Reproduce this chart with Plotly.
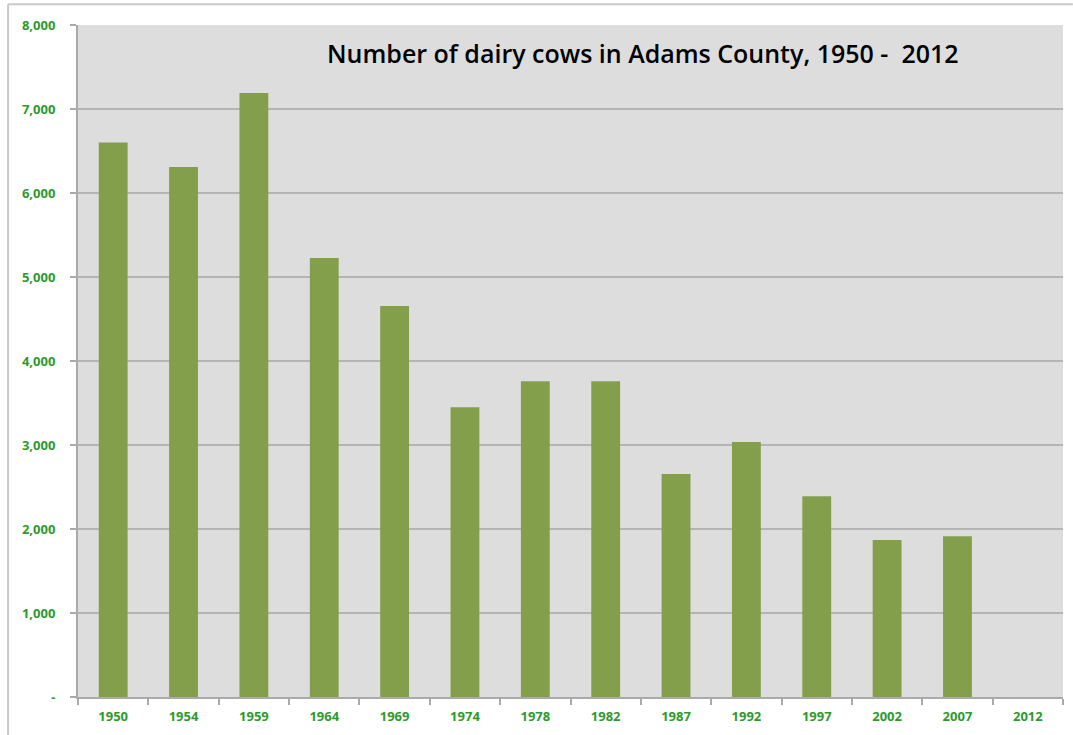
import plotly.graph_objects as go

years = ["1950", "1954", "1959", "1964", "1969", "1974", "1978", "1982",
         "1987", "1992", "1997", "2002", "2007", "2012"]
cows = [6600, 6310, 7190, 5225, 4655, 3450, 3760, 3760,
        2655, 3035, 2390, 1870, 1915, None]
y_ticks = [0, 1000, 2000, 3000, 4000, 5000, 6000, 7000, 8000]
y_tick_labels = ["-", "1,000", "2,000", "3,000", "4,000", "5,000", "6,000", "7,000", "8,000"]
title_text = "Number of dairy cows in Adams County, 1950 -  2012"

fig = go.Figure()
fig.add_trace(go.Bar(
    x=years, y=cows,
    marker=dict(color="#849F4B", line=dict(width=0)),
    hoverinfo="x+y",
))

green = "#2E9A2E"
fig.update_layout(
    width=1073, height=735,
    margin=dict(l=78, r=10, t=25, b=38),
    paper_bgcolor="white",
    plot_bgcolor="#DDDDDD",
    bargap=0.59,
    showlegend=False,
    font=dict(family="Open Sans, Lato, sans-serif"),
    annotations=[dict(
        text=title_text, xref="paper", yref="paper",
        x=0.574, y=0.958, xanchor="center", yanchor="middle",
        showarrow=False,
        font=dict(size=25, color="black", family="Open Sans", weight=600),
    )],
    shapes=[
        dict(type="line", xref="paper", yref="paper",
             x0=-0.071, x1=1.01, y0=1.031, y1=1.031,
             line=dict(color="#C8C8C8", width=2)),
        dict(type="line", xref="paper", yref="paper",
             x0=-0.071, x1=-0.071, y0=1.031, y1=-0.06,
             line=dict(color="#C8C8C8", width=2)),
    ],
)
fig.update_xaxes(
    type="category",
    showline=True, linecolor="#AAAAAA", linewidth=2,
    ticks="outside", ticklen=6, tickcolor="#AAAAAA", tickwidth=2,
    tickson="boundaries",
    showgrid=False,
    tickfont=dict(color=green, size=13, family="Open Sans", weight="bold"),
    ticklabelstandoff=6,
)
fig.update_yaxes(
    range=[0, 8000],
    tickvals=y_ticks, ticktext=y_tick_labels,
    showline=True, linecolor="#AAAAAA", linewidth=2,
    ticks="outside", ticklen=6, tickcolor="#AAAAAA", tickwidth=2,
    showgrid=True, gridcolor="#B4B4B4", gridwidth=1.5,
    zeroline=False,
    tickfont=dict(color=green, size=13, family="Open Sans", weight="bold"),
    ticklabelstandoff=12,
)

fig.write_html("out.html", config={"displayModeBar": False},
               post_script="document.body.style.margin='0';")
